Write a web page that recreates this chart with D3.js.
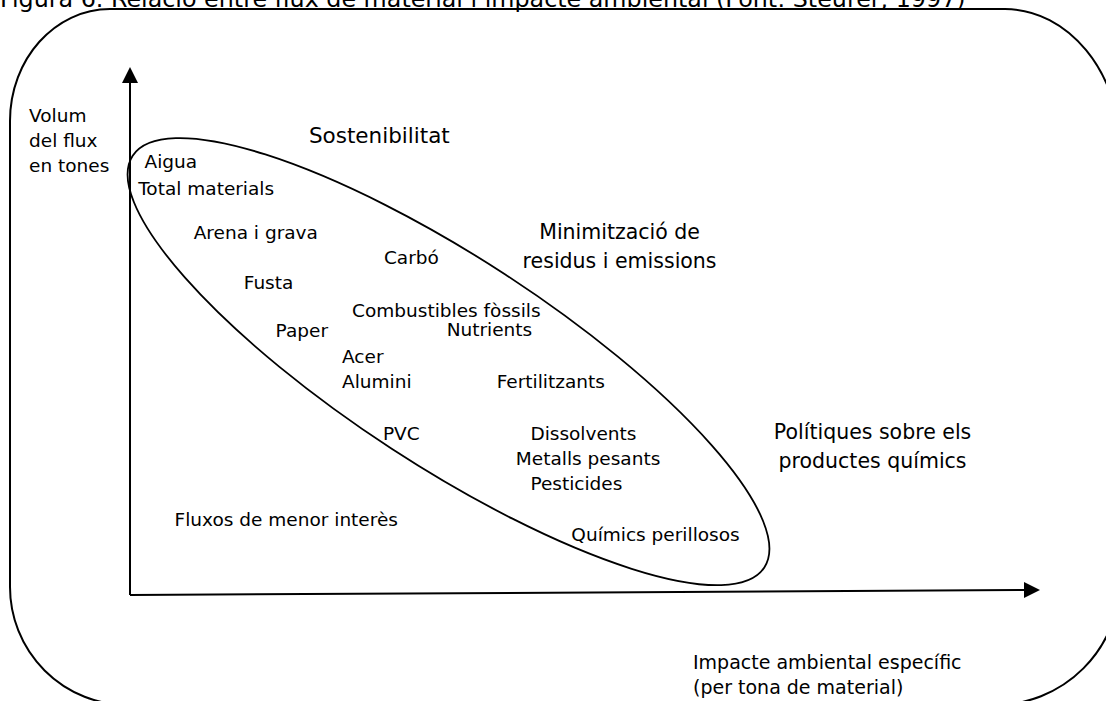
<!DOCTYPE html>
<html>
<head>
<meta charset="utf-8">
<script src="https://cdn.jsdelivr.net/npm/d3@7"></script>
<style>
  body { margin: 0; background: #fff; }
  svg { display: block; }
  text { font-family: "DejaVu Sans", Verdana, sans-serif; fill: #000; }
</style>
</head>
<body>
<div id="chart"></div>
<script>
// materials placed by environmental impact (x) and flow volume (y), 0-100 on both
var materials = ["Aigua", "Total materials", "Arena i grava", "Carbó", "Fusta",
    "Combustibles fòssils", "Nutrients", "Paper", "Acer", "Alumini", "Fertilitzants",
    "PVC", "Dissolvents", "Metalls pesants", "Pesticides", "Químics perillosos",
    "Fluxos de menor interès"];
var impact = [1.6, 0.9, 7.0, 27.9, 12.5, 24.4, 34.8, 16.0, 23.3, 23.3, 40.3,
    27.8, 44.0, 42.4, 44.0, 48.5, 4.9];
var volume = [80.8, 75.8, 67.4, 62.6, 57.9, 52.6, 49.1, 48.9, 44.0, 39.2, 39.2,
    29.4, 29.4, 24.7, 19.8, 10.2, 13.0];

// policy zones (centred labels)
var zones = [["Sostenibilitat"], ["Minimització de", "residus i emissions"],
    ["Polítiques sobre els", "productes químics"]];
var zoneImpact = [27.4, 53.8, 81.6];
var zoneVolume = [85.7, 67.5, 29.6];

var yTitle = ["Volum", "del flux", "en tones"];
var xTitle = ["Impacte ambiental específic", "(per tona de material)"];
var title = "Figura 6. Relació entre flux de material i impacte ambiental (Font: Steurer, 1997)";

// the ellipse grouping the main flows
var ellipseCenter = [35.0, 44.2];

var width = 1106, height = 701;
var svg = d3.select("#chart").append("svg").attr("width", width).attr("height", height);

var x = d3.scaleLinear().domain([0, 100]).range([130, 1040]);
var y = d3.scaleLinear().domain([0, 100]).range([595, 67]);

svg.append("text").attr("x", 0).attr("y", 7)
    .style("font-size", "23.8px").text(title);

// outer rounded frame (runs off the page at the right and bottom)
var L = 10, T = 9, R = 1120, B = 705;
var frame = d3.path();
frame.moveTo(L + 100, T);
frame.lineTo(R - 115, T);
frame.bezierCurveTo(R - 115 + 63, T, R, T + 63, R, T + 140);
frame.lineTo(R, B - 125);
frame.arcTo(R, B, R - 125, B, 125);
frame.lineTo(L + 118, B);
frame.arcTo(L, B, L, B - 118, 118);
frame.lineTo(L, T + 112);
frame.bezierCurveTo(L, T + 50, L + 45, T, L + 100, T);
svg.append("path").attr("d", frame.toString())
    .attr("fill", "none").attr("stroke", "#000").attr("stroke-width", 2);

// ellipse
var c = [x(ellipseCenter[0]), y(ellipseCenter[1])];
svg.append("ellipse")
    .attr("cx", 0).attr("cy", 0).attr("rx", 377).attr("ry", 104)
    .attr("transform", "translate(" + c + ") rotate(33.1)")
    .attr("fill", "none").attr("stroke", "#000").attr("stroke-width", 1.8);

// axes with arrowheads
var x0 = x(0), y0 = y(0);
svg.append("line").attr("x1", x0).attr("y1", y0).attr("x2", x0).attr("y2", y(100) + 14)
    .attr("stroke", "#000").attr("stroke-width", 2);
svg.append("path")
    .attr("d", "M" + x0 + "," + y(100) + "L" + (x0 - 8) + "," + (y(100) + 16) + "L" + (x0 + 8) + "," + (y(100) + 16) + "Z")
    .attr("fill", "#000");
var tipY = y0 - 5;
svg.append("line").attr("x1", x0).attr("y1", y0).attr("x2", x(100) - 14).attr("y2", tipY)
    .attr("stroke", "#000").attr("stroke-width", 2);
svg.append("path")
    .attr("d", "M" + x(100) + "," + tipY + "L" + (x(100) - 16) + "," + (tipY - 8) + "L" + (x(100) - 16) + "," + (tipY + 8) + "Z")
    .attr("fill", "#000");

// axis titles
svg.append("g").selectAll("text").data(yTitle).join("text")
    .attr("x", x0 - 101).attr("y", function(d, i) { return 122 + i * 25; })
    .style("font-size", "18.5px").text(function(d) { return d; });
svg.append("g").selectAll("text").data(xTitle).join("text")
    .attr("x", 693).attr("y", function(d, i) { return y0 + 74 + i * 25; })
    .style("font-size", "19px").text(function(d) { return d; });

// material labels
svg.append("g").selectAll("text").data(materials).join("text")
    .attr("x", function(d, i) { return x(impact[i]); })
    .attr("y", function(d, i) { return y(volume[i]); })
    .style("font-size", "18.5px")
    .text(function(d) { return d; });

// zone labels
var zg = svg.append("g").selectAll("text").data(zones).join("text")
    .attr("text-anchor", "middle")
    .attr("x", function(d, i) { return x(zoneImpact[i]); })
    .attr("y", function(d, i) { return y(zoneVolume[i]); })
    .style("font-size", function(d, i) { return i ? "20.5px" : "21.5px"; });
zg.selectAll("tspan").data(function(d, i) { return d.map(function(s) { return [s, i]; }); })
    .join("tspan")
    .attr("x", function(d) { return x(zoneImpact[d[1]]); })
    .attr("dy", function(d, j) { return j ? 29 : 0; })
    .text(function(d) { return d[0]; });
</script>
</body>
</html>
